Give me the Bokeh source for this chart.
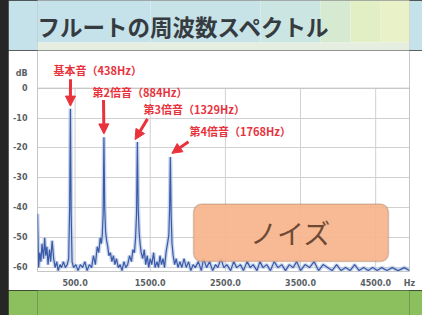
from bokeh.plotting import figure
from bokeh.layouts import column, row
from bokeh.models import (Range1d, FixedTicker, PrintfTickFormatter, Label, Arrow, NormalHead,
                          BoxAnnotation, Spacer)
from bokeh.embed import file_html
from bokeh.resources import INLINE

# ---------------- data ----------------
title_text = "フルートの周波数スペクトル"
noise_text = "ノイズ"
x_unit = "Hz"
y_unit = "dB"

freq_hz = [0, 15, 30, 45, 60, 80, 95, 110, 125, 140, 160, 175, 195, 215, 235, 255, 275, 300,
           320, 345, 370, 395, 415, 428, 438, 448, 460, 480, 510, 540, 570, 600, 630, 660,
           690, 720, 745, 770, 795, 815, 835, 850, 862, 874, 884, 894, 906, 920, 935, 950,
           970, 990, 1010, 1030, 1050, 1075, 1100, 1125, 1150, 1175, 1200, 1225, 1250, 1270,
           1290, 1305, 1318, 1329, 1340, 1352, 1365, 1380, 1400, 1420, 1440, 1460, 1480, 1500,
           1520, 1545, 1565, 1590, 1610, 1630, 1650, 1670, 1690, 1710, 1730, 1748, 1758, 1768,
           1778, 1790, 1805, 1825, 1845, 1870, 1895, 1920, 1950, 1980, 2010, 2040, 2070, 2100,
           2140, 2180, 2210, 2250, 2290, 2330, 2370, 2400, 2440, 2480, 2520, 2570, 2610, 2650,
           2700, 2740, 2790, 2830, 2870, 2920, 2960, 3000, 3050, 3100, 3150, 3200, 3250, 3300,
           3350, 3400, 3450, 3500, 3560, 3620, 3680, 3740, 3800, 3860, 3920, 3980, 4040, 4100,
           4160, 4220, 4280, 4340, 4400, 4460, 4520, 4580, 4650, 4720, 4800, 4880, 4950]
level_db = [-42, -60, -55, -58, -52, -57, -50, -56, -53, -59, -54, -58, -51, -57, -60, -58, -61, -59,
            -60, -58, -60, -59, -57, -40, -6.9, -42, -58, -60, -59, -61, -59, -60, -58, -61,
            -59, -60, -56, -59, -53, -55, -50, -52, -49, -42, -16.4, -40, -48, -51, -53, -56,
            -55, -58, -56, -59, -57, -60, -59, -61, -58, -60, -59, -56, -58, -54,
            -55, -50, -42, -18.0, -40, -48, -52, -55, -57, -54, -59, -56, -60, -57,
            -59, -55, -60, -58, -60, -56, -59, -57, -60, -55, -52, -49, -40, -23.0,
            -42, -52, -56, -59, -57, -60, -58, -60, -57, -60, -58, -61, -59, -60,
            -58, -61, -57, -60, -58, -61, -59, -60, -57, -60, -59, -61, -58, -60,
            -59, -61, -58, -60, -59, -61, -58, -60, -59, -61, -58, -60, -59, -61,
            -59, -60, -58, -61, -59, -60, -58, -61, -59, -60, -61, -59, -61, -60,
            -61, -59, -61, -60, -61, -60, -61, -60, -61, -60, -61, -60, -61]

peak_names = ["基本音", "第2倍音", "第3倍音", "第4倍音"]
peak_freqs = [438, 884, 1329, 1768]
peak_db = [-6.9, -16.4, -18.0, -23.0]

x_ticks = [500, 1500, 2500, 3500, 4500]
y_ticks = [0, -10, -20, -30, -40, -50, -60]

# ---------------- layout / style ----------------
EDGE = 8                               # dark slide edge on the left
W = 422 - EDGE
DARK = "#262626"
RED = "#e8323c"
JP = "Noto Sans CJK JP"
GRID = "#d0d0d0"
BORDER_L, BORDER_R = 37 - EDGE, 13     # same side borders for all stacked figures

TOP_H, MID_H, BOT_H = 50, 240, 25
ZERO_PY = 88                           # page y of the 0 dB line
YS = 3.018                             # px per dB
XS = (W - BORDER_L - BORDER_R) / 4950  # px per Hz
X_START, X_END = 0, 4950
Y_START = -61.3
Y_END = (ZERO_PY - TOP_H) / YS
DB_LABEL_Y = 4.8


def px2x(px):
    return X_START + (px - 37) / XS


def px2y(py):
    return (ZERO_PY - py) / YS


# ---- top band (title); data units = page pixels ----
top = figure(width=W, height=TOP_H, x_range=Range1d(37, 422 - BORDER_R), y_range=Range1d(TOP_H, 0),
             x_axis_type=None, y_axis_type=None, toolbar_location=None, output_backend="svg",
             min_border_left=BORDER_L, min_border_right=BORDER_R, min_border_top=0, min_border_bottom=0)
top.grid.visible = False
top.outline_line_color = None
top.border_fill_color = "#c5e2ea"
band_l = [0, 150, 260, 320, 350, 380]
band_r = [150, 260, 320, 350, 380, 422]
band_c = ["#c5e2ea", "#c7e3e8", "#cbe5e2", "#d6ead2", "#e2efc4", "#e8f1c8"]
top.quad(left=band_l, right=band_r, top=0, bottom=42, fill_color=band_c, line_color=None)
top.quad(left=[0], right=[422], top=42, bottom=TOP_H, fill_color="#e6eee2", line_color=None)
top.add_layout(Label(x=37, y=25, text=title_text, text_font=JP, text_font_size="22.5px",
                     text_font_style="bold", text_color="#353b40",
                     text_align="left", text_baseline="middle"))

# ---- chart ----
mid = figure(width=W, height=MID_H, x_range=Range1d(X_START, X_END), y_range=Range1d(Y_START, Y_END),
             toolbar_location=None, output_backend="svg",
             min_border_left=BORDER_L, min_border_right=BORDER_R, min_border_top=0,
             min_border_bottom=MID_H - int(round(ZERO_PY - Y_START * YS)) + TOP_H)
mid.background_fill_color = "white"
mid.border_fill_color = "white"
mid.outline_line_color = None
mid.xgrid.visible = False
mid.ygrid.ticker = FixedTicker(ticks=y_ticks)
mid.ygrid.grid_line_color = GRID

# vertical grid lines only down from 0 dB, plus chart border
mid.segment(x0=x_ticks, x1=x_ticks, y0=Y_START, y1=0, line_color=GRID, line_width=1)
mid.quad(left=X_START, right=X_END, top=0, bottom=Y_START, fill_color=None, line_color="#c4c4c4")

mid.xaxis.ticker = FixedTicker(ticks=x_ticks + [X_END])
mid.xaxis.formatter = PrintfTickFormatter(format="%.1f")
mid.xaxis.major_label_overrides = {X_END: x_unit}
mid.yaxis.ticker = FixedTicker(ticks=y_ticks + [DB_LABEL_Y])
mid.yaxis.major_label_overrides = {**{t: str(t) for t in y_ticks}, DB_LABEL_Y: y_unit}
for ax in (mid.xaxis, mid.yaxis):
    ax.axis_line_color = None
    ax.major_tick_line_color = None
    ax.minor_tick_line_color = None
    ax.major_label_text_font = "DejaVu Sans"
    ax.major_label_text_font_size = "8px"
    ax.major_label_text_color = "#5a5f66"
    ax.major_label_text_font_style = "bold"
mid.xaxis.major_label_standoff = 1
mid.yaxis.major_label_standoff = 4

mid.line(freq_hz, level_db, line_width=4, color="#b4c4e4", alpha=0.7)
mid.line(freq_hz, level_db, line_width=1.2, color="#3a5aa8")

# harmonic labels and arrows (positions in page pixels)
label_px = [(53, 70), (92, 92), (143, 109), (189, 131)]
arrow_start_px = [(70, 79), (103, 100), (147, 119), (188, 142)]
tip_offset = [(0, 0.9), (0, 1.1), (-30, 0.8), (20, 1.2)]
for name, f, d, (lx, ly), (sx, sy), (ox, oy) in zip(peak_names, peak_freqs, peak_db,
                                                     label_px, arrow_start_px, tip_offset):
    mid.add_layout(Label(x=px2x(lx), y=px2y(ly), text=f"{name}（{f}Hz）", text_font=JP,
                         text_font_size="11px", text_font_style="bold", text_color=RED,
                         text_align="left", text_baseline="middle"))
    mid.add_layout(Arrow(end=NormalHead(size=10, fill_color=RED, line_color=RED),
                         x_start=px2x(sx), y_start=px2y(sy), x_end=f + ox, y_end=d + oy,
                         line_color=RED, line_width=3))

# noise box
mid.add_layout(BoxAnnotation(left=px2x(193), right=px2x(388), top=px2y(205), bottom=px2y(263),
                             fill_color="#f6b48b", fill_alpha=0.92, line_color="#8c6f60",
                             line_width=1.5, border_radius=8))
mid.add_layout(Label(x=px2x(290), y=px2y(234), text=noise_text, text_font=JP,
                     text_font_size="27px", text_color="#6e4a36",
                     text_align="center", text_baseline="middle"))

# ---- bottom green band ----
bot = figure(width=W, height=BOT_H, x_range=Range1d(0, 1), y_range=Range1d(0, 1),
             x_axis_type=None, y_axis_type=None, toolbar_location=None, output_backend="svg",
             min_border_left=BORDER_L, min_border_right=BORDER_R, min_border_top=0, min_border_bottom=0)
bot.grid.visible = False
bot.outline_line_color = None
bot.background_fill_color = "#8cbf5e"
bot.border_fill_color = "#8cbf5e"

edge = Spacer(width=EDGE, height=TOP_H + MID_H + BOT_H, styles={"background-color": DARK})
layout = row(edge, column(top, mid, bot, spacing=0), spacing=0,
             styles={"background-color": DARK})
open("out.html", "w").write(file_html(layout, INLINE))
